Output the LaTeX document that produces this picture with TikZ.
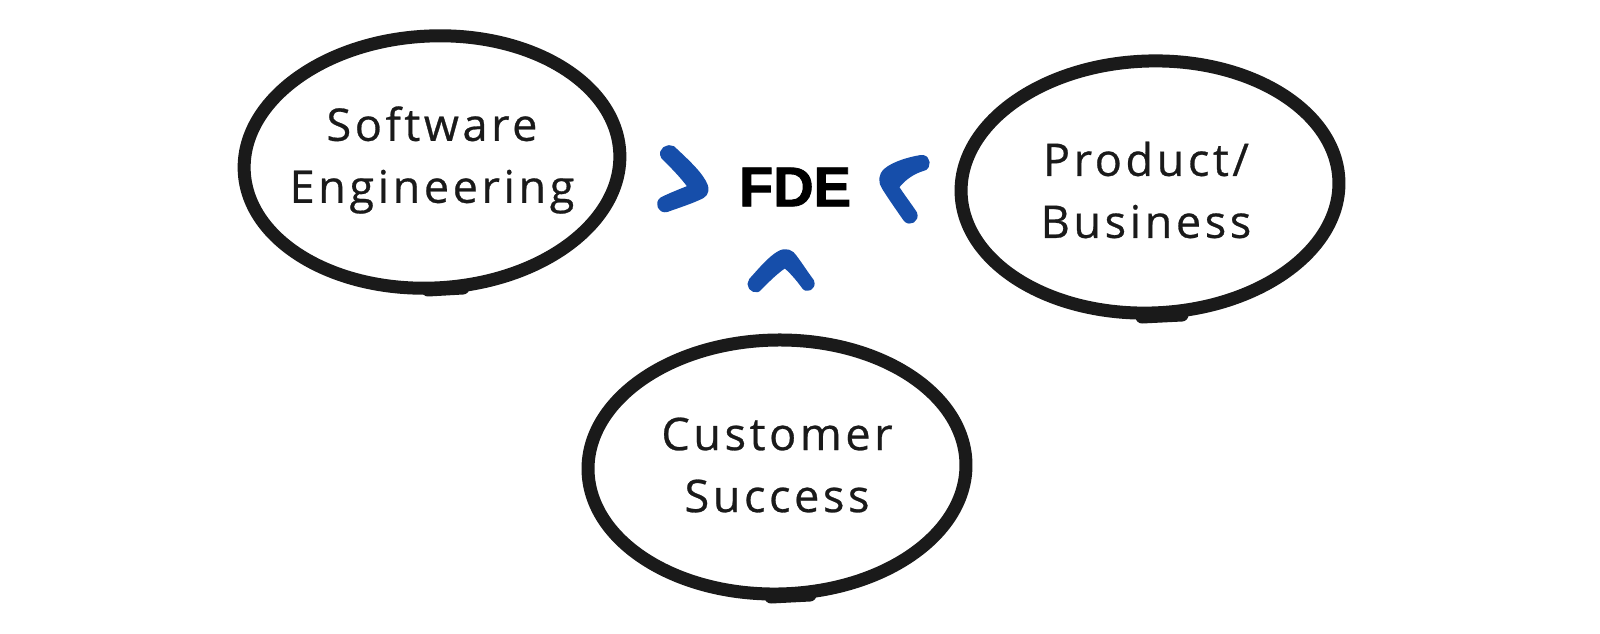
\documentclass[tikz,border=0pt]{standalone}
\usepackage{fontspec}
\newfontfamily\hand{Open Sans}[LetterSpace=8,FakeBold=0.6]
\newfontfamily\boldsans{Liberation Sans}[FakeBold=1.6]
\definecolor{ink}{RGB}{26,26,26}
\definecolor{chev}{RGB}{22,78,170}
\begin{document}
\begin{tikzpicture}[x=1pt,y=-1pt,
 ring/.style={draw=ink,line width=13pt},
 tailmark/.style={draw=ink,line width=13pt,line cap=round},
 chevron/.style={fill=chev,draw=chev,line width=4pt,line join=round},
 handtext/.style={font=\hand\fontsize{45}{62}\selectfont,align=center,text=ink}]
\useasboundingbox (0,0) rectangle (1600,633);
\fill[white] (0,0) rectangle (1600,633);
% ellipses
\draw[ring,rotate around={3:(432,162)}] (432,162) ellipse [x radius=188pt,y radius=126pt];
\draw[tailmark] (428,290) -- (463,288);
\draw[ring,rotate around={2:(1150,187)}] (1150,187) ellipse [x radius=189pt,y radius=126pt];
\draw[tailmark] (1142,317) -- (1182,315);
\draw[ring,rotate around={1:(777,467)}] (777,467) ellipse [x radius=189pt,y radius=127pt];
\draw[tailmark] (771,597) -- (810,595);
% texts
\node[handtext] (se) at (432,160) {Software\\Engineering};
\node[handtext] (pb) at (1146,190) {Product/\\Business};
\node[handtext] (cs) at (777,465) {Customer\\Success};
\node[font=\boldsans\bfseries\fontsize{56}{60}\selectfont,text=black] (fde) at (795,187) {FDE};
% chevrons
\path[chevron] (663,157) .. controls (659,150) and (668,145) .. (673,148)
  .. controls (688,162) and (702,175) .. (706,186)
  .. controls (708,193) and (704,196) .. (699,198)
  .. controls (688,203) and (675,207) .. (667,210)
  .. controls (660,212) and (656,203) .. (662,199)
  .. controls (672,194) and (683,190) .. (690,187)
  .. controls (682,176) and (672,166) .. (663,157) -- cycle;
\path[chevron] (921,157) .. controls (908,159) and (893,164) .. (886,170)
  .. controls (880,175) and (880,182) .. (884,188)
  .. controls (891,199) and (898,209) .. (905,219)
  .. controls (909,225) and (918,220) .. (915,213)
  .. controls (909,204) and (902,195) .. (897,187)
  .. controls (904,178) and (913,172) .. (923,169)
  .. controls (930,168) and (929,156) .. (921,157) -- cycle;
\path[chevron] (758,290) .. controls (752,292) and (747,285) .. (751,280)
  .. controls (760,270) and (770,258) .. (779,253)
  .. controls (786,249) and (792,252) .. (795,257)
  .. controls (801,265) and (806,273) .. (812,281)
  .. controls (815,288) and (806,292) .. (803,286)
  .. controls (798,279) and (791,271) .. (785,266)
  .. controls (777,271) and (768,280) .. (758,290) -- cycle;
\end{tikzpicture}
\end{document}
